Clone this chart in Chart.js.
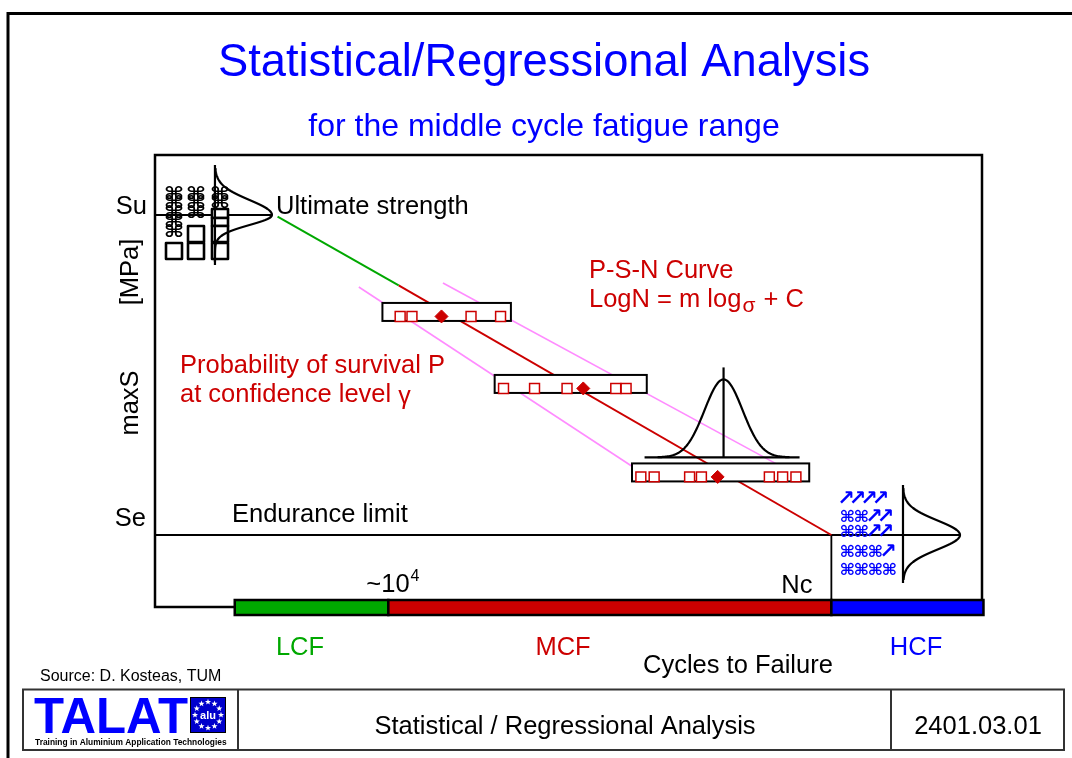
<!DOCTYPE html>
<html><head><meta charset="utf-8">
<script src="https://cdn.jsdelivr.net/npm/chart.js@4.4.1/dist/chart.umd.min.js"></script>
<style>html,body{margin:0;padding:0;background:#fff;}#wrap{position:relative;width:1072px;height:758px;}</style>
</head><body><div id="wrap"><canvas id="c"></canvas></div>
<script>
// ---------------- DATA (x: log10 cycles to failure, y: max stress, schematic units) ----------------
const ultimateStrength = 300;          // Su
const enduranceLimit = 100;            // Se
const logNc = 7.0;                     // Nc
const logN1e4 = 4.0;                   // ~10^4
const psnLogN = [3.25, 4.07, 7.0];     // P-S-N curve (green part, then red part)
const psnStress = [299, 256, 100];
const upperBandLogN = [4.37, 6.69];
const upperBandStress = [257.5, 141.3];
const lowerBandLogN = [3.80, 5.74];
const lowerBandStress = [255.0, 137.5];
const ultimateLineLogN = [2.42, 3.21];
const enduranceLineLogN = [2.42, 7.87];
const testStress = [236.6, 191.6, 136.3];
const testLogN1 = [4.08, 4.16, 4.56, 4.76];
const testLogN2 = [4.78, 4.99, 5.21, 5.54, 5.61];
const testLogN3 = [5.71, 5.80, 6.04, 6.12, 6.58, 6.67, 6.76];
const meanLogN = [4.36, 5.32, 6.23];
const boxFromLogN = [3.96, 4.72, 5.65];
const boxToLogN = [4.83, 5.75, 6.85];
const bellLogN = 6.27;
const suBellLogN = 2.826;
const hcfBellLogN = 7.485;
const regimeNames = ['LCF', 'MCF', 'HCF'];
const regimeFrom = [2.96, 4.0, 7.0];
const regimeTo = [4.0, 7.0, 8.03];
const hcfRows = ['↗↗↗↗', '⌘⌘↗↗', '⌘⌘↗↗', '⌘⌘⌘↗', '⌘⌘⌘⌘'];

// ---------------- STYLES ----------------
const regimeColors = ['#00a800', '#cc0000', '#0000ff'];
const RED = '#cc0000', BLUE = '#0000ff', GREEN = '#00a800', PINK = '#ff8cff';
const FF = '"Liberation Sans", Arial, Helvetica, sans-serif';

const pts = (xs, ys) => xs.map((x, i) => ({ x, y: Array.isArray(ys) ? ys[i] : ys }));
const lineDs = (data, color, w, order) => ({ data, showLine: true, borderColor: color, borderWidth: w, pointRadius: 0, fill: false, order: order, clip: false });

const samples = [].concat(pts(testLogN1, testStress[0]), pts(testLogN2, testStress[1]), pts(testLogN3, testStress[2]));
const means = pts(meanLogN, testStress);

function txt(ctx, s, x, y, font, color, align) {
  ctx.font = font; ctx.fillStyle = color; ctx.textAlign = align || 'left'; ctx.textBaseline = 'alphabetic';
  ctx.fillText(s, x, y);
  return ctx.measureText(s).width;
}
function glyph(ctx, ch, x, y, size, sx) {
  ctx.save(); ctx.translate(x, y); ctx.scale(sx, 1);
  ctx.font = 'bold ' + size + 'px "DejaVu Sans"'; ctx.textAlign = 'center'; ctx.textBaseline = 'middle';
  ctx.fillText(ch, 0, 0); ctx.restore();
}
function star(ctx, cx, cy, r) {
  ctx.beginPath();
  for (let k = 0; k < 10; k++) {
    const rr = k % 2 ? r * 0.42 : r;
    const a = -Math.PI / 2 + k * Math.PI / 5;
    ctx.lineTo(cx + rr * Math.cos(a), cy + rr * Math.sin(a));
  }
  ctx.closePath(); ctx.fill();
}

const diagram = {
  id: 'diagram',
  beforeDraw(chart) {
    const { ctx, chartArea: a } = chart;
    const X = v => chart.scales.x.getPixelForValue(v);
    ctx.save();
    ctx.fillStyle = '#fff'; ctx.fillRect(0, 0, chart.width, chart.height);
    ctx.strokeStyle = '#000'; ctx.lineWidth = 3;
    ctx.beginPath(); ctx.moveTo(8, chart.height); ctx.lineTo(8, 13.5); ctx.lineTo(chart.width, 13.5); ctx.stroke();
    ctx.lineWidth = 2.5;
    ctx.beginPath(); ctx.moveTo(X(regimeFrom[0]), a.bottom); ctx.lineTo(a.left, a.bottom); ctx.lineTo(a.left, a.top);
    ctx.lineTo(a.right, a.top); ctx.lineTo(a.right, a.bottom); ctx.stroke();
    ctx.restore();
  },
  beforeDatasetDraw(chart, args) {
    if (chart.data.datasets[args.index].role !== 'samples') return;
    const ctx = chart.ctx;
    const X = v => chart.scales.x.getPixelForValue(v), Y = v => chart.scales.y.getPixelForValue(v);
    ctx.save();
    ctx.lineWidth = 2; ctx.strokeStyle = '#000'; ctx.fillStyle = '#fff';
    for (let i = 0; i < testStress.length; i++) {
      const x1 = X(boxFromLogN[i]), x2 = X(boxToLogN[i]), yc = Y(testStress[i]);
      ctx.fillRect(x1, yc - 13.5, x2 - x1, 18);
      ctx.strokeRect(x1, yc - 13.5, x2 - x1, 18);
    }
    ctx.restore();
  },
  afterDatasetsDraw(chart) {
    const { ctx, chartArea: a } = chart;
    const X = v => chart.scales.x.getPixelForValue(v), Y = v => chart.scales.y.getPixelForValue(v);
    ctx.save();
    // regime bars on the cycle axis
    for (let i = 0; i < regimeNames.length; i++) {
      const x1 = X(regimeFrom[i]), x2 = X(regimeTo[i]);
      ctx.fillStyle = regimeColors[i]; ctx.fillRect(x1, a.bottom - 7, x2 - x1, 15);
      ctx.strokeStyle = '#000'; ctx.lineWidth = 2.5; ctx.strokeRect(x1, a.bottom - 7, x2 - x1, 15);
    }
    ctx.strokeStyle = '#000'; ctx.lineWidth = 2.2; ctx.lineJoin = 'round';
    // bell over the lowest test group
    {
      const cx = X(bellLogN), base = Y(testStress[2]) - 19.5, amp = 78, s = 19;
      ctx.beginPath(); ctx.moveTo(cx - 79, base); ctx.lineTo(cx + 76, base); ctx.stroke();
      ctx.beginPath(); ctx.moveTo(cx, base); ctx.lineTo(cx, base - 90); ctx.stroke();
      ctx.beginPath();
      for (let dx = -66; dx <= 66; dx += 1) {
        const y = base - amp * Math.exp(-dx * dx / (2 * s * s));
        dx === -66 ? ctx.moveTo(cx + dx, y) : ctx.lineTo(cx + dx, y);
      }
      ctx.stroke();
    }
    // horizontal bells at Su and at Se
    const hBell = (bx, cy, amp, sUp, sDn, top, bot) => {
      ctx.beginPath(); ctx.moveTo(bx, top); ctx.lineTo(bx, bot); ctx.stroke();
      ctx.beginPath();
      for (let y = top + 3; y <= bot - 3; y += 1) {
        const dy = y - cy, s = dy < 0 ? sUp : sDn;
        const x = bx + amp * Math.exp(-dy * dy / (2 * s * s));
        y === top + 3 ? ctx.moveTo(x, y) : ctx.lineTo(x, y);
      }
      ctx.stroke();
    };
    // specimen symbols at Su (black)
    const ys = Y(ultimateStrength);
    ctx.fillStyle = '#000';
    [[174, [-20, -11, -1, 8, 18]], [196, [-20, -11, -1]], [220, [-20, -11]]].forEach(([cx, list]) => list.forEach(d => glyph(ctx, '⌘', cx, ys + d, 17, 1.3)));
    ctx.strokeStyle = '#000'; ctx.lineWidth = 2.6;
    [[166, 28, 16], [188, 11, 16], [188, 28, 16], [212, -6, 9], [212, 3, 8], [212, 11, 16], [212, 28, 16]].forEach(([x, d, h]) => {
      ctx.fillStyle = '#fff'; ctx.fillRect(x, ys + d, 16, h);
      ctx.strokeRect(x, ys + d, 16, h);
    });
    ctx.lineWidth = 2.2;
    hBell(X(suBellLogN), Y(ultimateStrength), 57, 15, 10, Y(ultimateStrength) - 50, Y(ultimateStrength) + 50);
    hBell(X(hcfBellLogN), Y(enduranceLimit), 57, 14.5, 14.5, Y(enduranceLimit) - 50, Y(enduranceLimit) + 48);

    // run-out specimens at Se (blue)
    ctx.fillStyle = BLUE;
    const ye = Y(enduranceLimit);
    const rowOff = [-35, -17, -2, 18, 36];
    hcfRows.forEach((row, r) => {
      let x = X(logNc) + 9;
      for (const ch of row) {
        if (ch === '↗') { glyph(ctx, ch, x + 5.8, ye + rowOff[r], 21, 1.0); x += 11.5; }
        else { glyph(ctx, ch, x + 7, ye + rowOff[r], 16, 1.05); x += 14; }
      }
    });
    ctx.restore();
  },
  afterDraw(chart) {
    const { ctx } = chart;
    const X = v => chart.scales.x.getPixelForValue(v), Y = v => chart.scales.y.getPixelForValue(v);
    const F = sz => sz + 'px ' + FF;
    ctx.save();
    txt(ctx, 'Statistical/Regressional Analysis', 544, 76, F(45.3), BLUE, 'center');
    txt(ctx, 'for the middle cycle fatigue range', 544, 136, F(32), BLUE, 'center');
    txt(ctx, 'Su', 147, Y(ultimateStrength) - 1, F(25.5), '#000', 'right');
    txt(ctx, 'Se', 146, Y(enduranceLimit) - 9, F(25.5), '#000', 'right');
    // rotated axis labels
    [['[MPa]', 272], ['maxS', 403]].forEach(([s, yc]) => {
      ctx.save(); ctx.translate(138, yc); ctx.rotate(-Math.PI / 2);
      txt(ctx, s, 0, 0, F(25.5), '#000', 'center'); ctx.restore();
    });
    txt(ctx, 'Ultimate strength', 276, Y(ultimateStrength) - 1, F(25.5), '#000');
    txt(ctx, 'Endurance limit', 232, Y(enduranceLimit) - 13, F(25.5), '#000');
    txt(ctx, 'P-S-N Curve', 589, 278, F(25.5), RED);
    let w = txt(ctx, 'LogN = m log', 589, 307, F(25.5), RED);
    let w2 = txt(ctx, 'σ', 589 + w + 1, 312, F(21), RED);
    txt(ctx, ' + C', 589 + w + w2 + 2, 307, F(25.5), RED);
    txt(ctx, 'Probability of survival P', 180, 373, F(25.5), RED);
    w = txt(ctx, 'at confidence level ', 180, 402, F(25.5), RED);
    txt(ctx, 'γ', 180 + w, 404, F(25), RED);
    w = txt(ctx, '~10', X(logN1e4) - 22, 592, F(25.5), '#000');
    txt(ctx, '4', X(logN1e4) - 22 + w + 1, 581, F(16), '#000');
    txt(ctx, 'Nc', X(logNc) - 50, 593, F(25.5), '#000');
    const regimeLabelX = [300, 563, 916];
    regimeNames.forEach((n, i) => txt(ctx, n, regimeLabelX[i], 655, F(25.5), regimeColors[i], 'center'));
    txt(ctx, 'Cycles to Failure', 643, 673, F(25.5), '#000');
    txt(ctx, 'Source: D. Kosteas, TUM', 40, 681, F(16), '#000');

    // footer
    ctx.strokeStyle = '#333'; ctx.lineWidth = 2;
    ctx.strokeRect(23, 689.5, 1041, 60.5);
    ctx.beginPath(); ctx.moveTo(238, 689.5); ctx.lineTo(238, 750); ctx.moveTo(891, 689.5); ctx.lineTo(891, 750); ctx.stroke();
    ctx.font = 'bold 50px ' + FF; ctx.fillStyle = BLUE; ctx.textAlign = 'left';
    ctx.fillText('TALAT', 34, 733, 154);
    // EU flag
    ctx.fillStyle = '#0000cc'; ctx.fillRect(190, 697, 36, 36);
    ctx.strokeStyle = '#000'; ctx.lineWidth = 1; ctx.strokeRect(190.5, 697.5, 35, 35);
    ctx.fillStyle = '#fff';
    for (let k = 0; k < 12; k++) {
      const ang = k * Math.PI / 6;
      star(ctx, 208 + 13 * Math.cos(ang), 715 + 13 * Math.sin(ang), 3.2);
    }
    txt(ctx, 'alu', 208, 719, 'bold 11px ' + FF, '#fff', 'center');
    ctx.font = 'bold 8.4px ' + FF; ctx.fillStyle = '#000'; ctx.textAlign = 'left';
    ctx.fillText('Training in Aluminium Application Technologies', 35, 745, 192);
    txt(ctx, 'Statistical / Regressional Analysis', 565, 734, F(25.5), '#000', 'center');
    txt(ctx, '2401.03.01', 978, 734, F(25.5), '#000', 'center');
    ctx.restore();
  }
};

new Chart(document.getElementById('c'), {
  type: 'scatter',
  data: {
    datasets: [
      lineDs(pts(psnLogN.slice(0, 2), psnStress.slice(0, 2)), GREEN, 2, 10),
      lineDs(pts(psnLogN.slice(1), psnStress.slice(1)), RED, 2, 10),
      lineDs(pts(upperBandLogN, upperBandStress), PINK, 1.6, 11),
      lineDs(pts(lowerBandLogN, lowerBandStress), PINK, 1.6, 11),
      lineDs(pts(ultimateLineLogN, ultimateStrength), '#000', 1.8, 10),
      lineDs(pts(enduranceLineLogN, enduranceLimit), '#000', 1.8, 10),
      lineDs([{ x: logNc, y: enduranceLimit }, { x: logNc, y: 55 }], '#000', 1.8, 10),
      { role: 'samples', data: samples, pointStyle: 'rect', pointRadius: 7, borderColor: RED, borderWidth: 1.5, backgroundColor: '#fff', showLine: false, order: 2, clip: false },
      { role: 'means', data: means, pointStyle: 'rectRot', pointRadius: 6.5, borderColor: RED, borderWidth: 1, backgroundColor: RED, showLine: false, order: 1, clip: false }
    ]
  },
  options: {
    responsive: true, maintainAspectRatio: false, animation: false, devicePixelRatio: 1, events: [],
    layout: { padding: { left: 155, top: 155, right: 90, bottom: 151 } },
    scales: {
      x: { type: 'linear', min: 2.42, max: 8.02, display: false },
      y: { type: 'linear', min: 55, max: 337.5, display: false }
    },
    plugins: { legend: { display: false }, tooltip: { enabled: false }, title: { display: false } }
  },
  plugins: [diagram]
});
</script></body></html>
